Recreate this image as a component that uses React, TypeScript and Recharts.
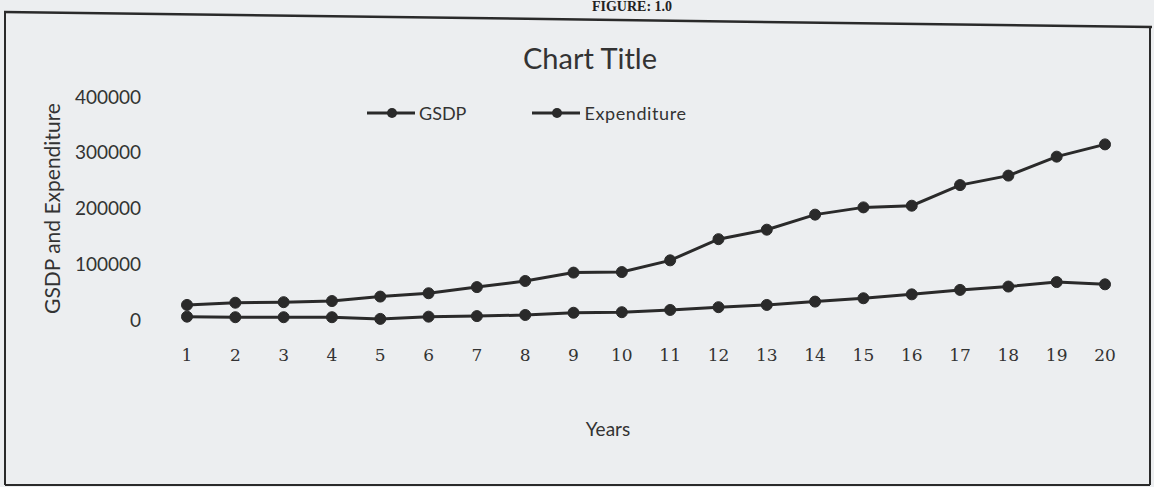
import React from "react";
import { LineChart, Line, XAxis, YAxis, Legend, Label } from "recharts";

const years = ["1","2","3","4","5","6","7","8","9","10","11","12","13","14","15","16","17","18","19","20"];
const gsdp = [27000, 31000, 32000, 34000, 42000, 48000, 59000, 70000, 85000, 86000, 107000, 145000, 162000, 189000, 202000, 205000, 242000, 259000, 293000, 315000];
const expenditure = [6000, 5000, 5000, 5000, 2000, 6000, 7000, 9000, 13000, 14000, 18000, 23000, 27000, 33000, 39000, 46000, 54000, 60000, 68000, 64000];
const yTicks = [0, 100000, 200000, 300000, 400000];
const seriesNames = ["GSDP", "Expenditure"];

const data = years.map((y, i) => ({ year: y, GSDP: gsdp[i], Expenditure: expenditure[i] }));

const INK = "#2a2a2a";
const TEXT = "#333";
const SANS = "Lato, 'Open Sans', sans-serif";

const LegendContent = () => (
  <div style={{ display: "flex", alignItems: "center", fontFamily: SANS, fontSize: 18, color: TEXT }}>
    {seriesNames.map((n, i) => (
      <div key={n} style={{ display: "flex", alignItems: "center", marginRight: i === 0 ? 66 : 0 }}>
        <svg width={48} height={14} style={{ display: "block" }}>
          <line x1={0} y1={7} x2={48} y2={7} stroke={INK} strokeWidth={3} />
          <circle cx={25} cy={7} r={5} fill={INK} />
        </svg>
        <span style={{ marginLeft: 4, lineHeight: "20px", letterSpacing: i === 1 ? 0.6 : 0 }}>{n}</span>
      </div>
    ))}
  </div>
);

export default function App() {
  return (
    <div style={{ position: "absolute", left: 0, top: 0, width: 1154, height: 487, background: "#eceef0", overflow: "hidden" }}>
      <div style={{ position: "absolute", left: 0, top: -1, width: 1154, textAlign: "center", fontFamily: "'Liberation Serif', serif", fontWeight: "bold", fontSize: 14, lineHeight: "16px", color: "#222", paddingLeft: 110, boxSizing: "border-box" }}>
        FIGURE: 1.0
      </div>
      <svg width={1154} height={487} style={{ position: "absolute", left: 0, top: 0 }}>
        <line x1={4} y1={12} x2={1152} y2={27} stroke="#2a2a2a" strokeWidth={2.5} />
        <line x1={5} y1={12} x2={5} y2={485} stroke="#2a2a2a" strokeWidth={2} />
        <line x1={1150} y1={27} x2={1150} y2={485} stroke="#2a2a2a" strokeWidth={2} />
        <line x1={5} y1={485} x2={1150} y2={485} stroke="#2a2a2a" strokeWidth={2} />
      </svg>
      <div style={{ position: "absolute", left: 0, top: 40, width: 1154, textAlign: "center", fontFamily: SANS, fontSize: 29, color: TEXT, paddingLeft: 26, boxSizing: "border-box" }}>
        Chart Title
      </div>
      <div style={{ position: "absolute", left: 0, top: 0 }}>
        <LineChart width={1154} height={487} data={data} margin={{ top: 97, right: 25, left: 23, bottom: 0 }}>
          <XAxis
            dataKey="year"
            height={167}
            padding={{ left: 24, right: 24 }}
            axisLine={false}
            tickLine={false}
            tickMargin={23}
            interval={0}
            tick={{ fill: TEXT, fontSize: 17, fontFamily: "'DejaVu Serif', serif" }}
          >
            <Label value="Years" position="insideBottom" offset={51} dx={-38} style={{ fill: TEXT, fontSize: 19, fontFamily: SANS }} />
          </XAxis>
          <YAxis
            width={140}
            domain={[0, 400000]}
            ticks={yTicks}
            axisLine={false}
            tickLine={false}
            tickMargin={16}
            tick={{ fill: TEXT, fontSize: 19, fontFamily: SANS }}
          >
            <Label value="GSDP and Expenditure" angle={-90} position="insideLeft" offset={30} style={{ fill: TEXT, fontSize: 21, fontFamily: SANS, textAnchor: "middle" }} />
          </YAxis>
          <Legend
            layout="horizontal"
            verticalAlign="middle"
            align="center"
            content={<LegendContent />}
            wrapperStyle={{ top: 103, left: 367, width: 400, height: 20 }}
          />
          <Line type="linear" dataKey="GSDP" stroke={INK} strokeWidth={3} dot={{ r: 5.5, fill: INK, stroke: INK, strokeWidth: 1 }} isAnimationActive={false} />
          <Line type="linear" dataKey="Expenditure" stroke={INK} strokeWidth={3} dot={{ r: 5.5, fill: INK, stroke: INK, strokeWidth: 1 }} isAnimationActive={false} />
        </LineChart>
      </div>
    </div>
  );
}
